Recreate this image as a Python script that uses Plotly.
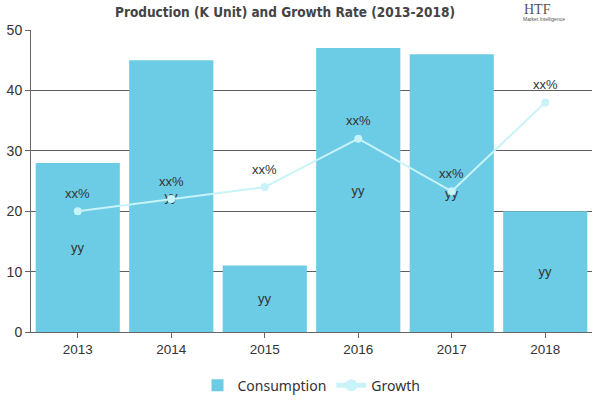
import plotly.graph_objects as go

years = ["2013", "2014", "2015", "2016", "2017", "2018"]
consumption = [28, 45, 11, 47, 46, 20]
growth = [20, 22, 24, 32, 23.3, 38]
bar_labels = ["yy"] * 6
growth_labels = ["xx%"] * 6

BAR = "#6ccbe5"
LINE = "#c8f3f8"

fig = go.Figure()
fig.add_trace(go.Bar(
    x=years, y=consumption, name="Consumption",
    marker=dict(color=BAR, line=dict(width=0)),
    text=bar_labels, textposition="inside", insidetextanchor="middle",
    textfont=dict(family="Liberation Sans, Arial", size=13, color="#333333"),
    hoverinfo="skip",
))
fig.add_trace(go.Scatter(
    x=years, y=growth, name="Growth", mode="lines+markers",
    line=dict(color=LINE, width=2),
    marker=dict(color=LINE, size=8),
))
# category index positions on the category x axis
for i, (g, lab) in enumerate(zip(growth, growth_labels)):
    fig.add_annotation(x=i, y=g, xref="x", yref="y", text=lab, showarrow=False, yshift=18,
                       font=dict(family="Liberation Sans, Arial", size=13, color="#333333"))

fig.update_layout(
    width=600, height=400,
    margin=dict(l=31, r=8, t=30, b=68, autoexpand=False),
    paper_bgcolor="white", plot_bgcolor="white",
    bargap=0.1,
    showlegend=True,
    legend=dict(orientation="h", x=0.5, xanchor="center", y=-0.125, yanchor="top",
                font=dict(family="Noto Sans, DejaVu Sans", size=14, color="#333333"),
                itemsizing="constant"),
    title=dict(text="<b>Production (K Unit) and Growth Rate (2013-2018)</b>",
               x=0.475, xanchor="center", y=0.97, yanchor="middle",
               font=dict(family="DejaVu Sans Condensed, DejaVu Sans", size=13.5, color="#444444")),
    xaxis=dict(type="category", categoryorder="array", categoryarray=years,
               showline=True, linecolor="#666666", ticks="outside", ticklen=5,
               tickcolor="#666666", showgrid=False, automargin=False,
               tickfont=dict(family="Liberation Sans, Arial", size=13.5, color="#333333")),
    yaxis=dict(range=[0, 50], dtick=10, showline=True, linecolor="#666666",
               ticks="outside", ticklen=5, tickcolor="#666666", automargin=False,
               showgrid=True, gridcolor="#5e5e5e", gridwidth=1, zeroline=False,
               tickfont=dict(family="Liberation Sans, Arial", size=14, color="#333333")),
)

fig.add_annotation(x=0.93, y=1.0, xref="paper", yref="paper", yanchor="bottom", yshift=11,
                   text="HTF", showarrow=False,
                   font=dict(family="Liberation Serif, serif", size=14, color="#555555"))
fig.add_annotation(x=0.955, y=1.0, xref="paper", yref="paper", yanchor="bottom", yshift=6,
                   text="Market Intelligence", showarrow=False,
                   font=dict(family="Liberation Sans, Arial", size=5, color="#555555"))

fig.write_html("out.html", config={"displayModeBar": False},
               post_script="document.body.style.margin='0';")
